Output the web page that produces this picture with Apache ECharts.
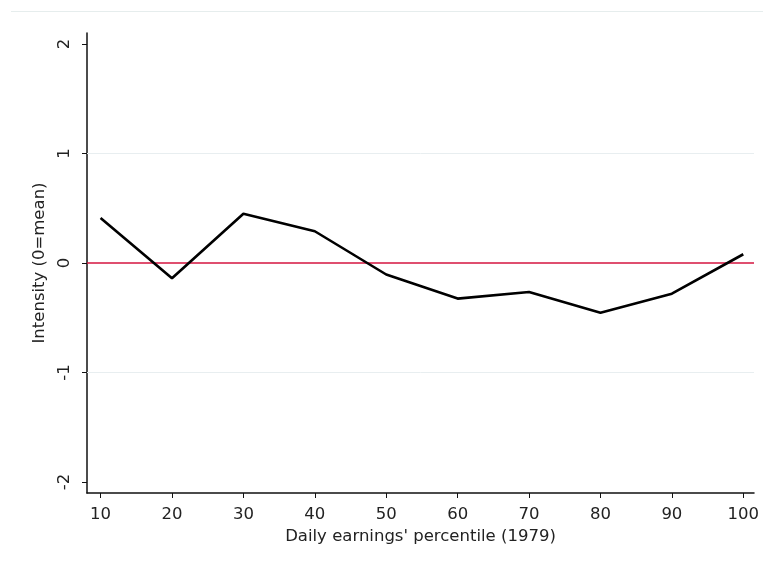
<!DOCTYPE html>
<html>
<head>
<meta charset="utf-8">
<script src="https://cdn.jsdelivr.net/npm/echarts@6/dist/echarts.min.js"></script>
<style>html,body{margin:0;padding:0;background:#fff;}#c{width:763px;height:564px;}</style>
</head>
<body>
<div id="c"></div>
<script>
var percentiles = [10, 20, 30, 40, 50, 60, 70, 80, 90, 100];
var intensity = [0.41, -0.14, 0.45, 0.29, -0.105, -0.325, -0.265, -0.455, -0.28, 0.08];
var xTicks = [10, 20, 30, 40, 50, 60, 70, 80, 90, 100];
var yTicks = [-2, -1, 0, 1, 2];
var gridLevels = [-1, 1];
var refLevel = 0;

var X_MIN = 8.1, X_MAX = 101.5;
var FONT = 'DejaVu Sans';
var FS = 16.5;
var chart = echarts.init(document.getElementById('c'), null, {renderer: 'canvas'});
chart.setOption({
  backgroundColor: '#ffffff',
  animation: false,
  textStyle: {fontFamily: FONT},
  graphic: [{
    type: 'line', silent: true,
    shape: {x1: 11, y1: 11.5, x2: 763, y2: 11.5},
    style: {stroke: '#e6eded', lineWidth: 1}
  }],
  grid: {left: 87, right: 9, top: 33, bottom: 71, containLabel: false},
  xAxis: {
    type: 'value', min: X_MIN, max: X_MAX,
    name: "Daily earnings' percentile (1979)",
    nameLocation: 'middle', nameGap: 30,
    nameTextStyle: {color: '#222', fontSize: FS, fontFamily: FONT},
    axisLine: {show: true, onZero: false, lineStyle: {color: '#111', width: 1.5}},
    axisTick: {show: true, customValues: xTicks, length: 5, lineStyle: {color: '#111', width: 1}},
    axisLabel: {customValues: xTicks, color: '#222', fontSize: FS, margin: 13, fontFamily: FONT},
    splitLine: {show: false}
  },
  yAxis: {
    type: 'value', min: -2.1, max: 2.1,
    name: 'Intensity (0=mean)',
    nameLocation: 'middle', nameGap: 36,
    nameTextStyle: {color: '#222', fontSize: FS, fontFamily: FONT},
    axisLine: {show: true, onZero: false, lineStyle: {color: '#111', width: 1.5}},
    axisTick: {show: true, customValues: yTicks, length: 5, lineStyle: {color: '#111', width: 1}},
    axisLabel: {customValues: yTicks, rotate: 90, color: '#222', fontSize: FS, margin: 14, fontFamily: FONT},
    splitLine: {show: false}
  },
  series: [{
    type: 'line',
    data: [[X_MIN, refLevel], [X_MAX, refLevel]],
    symbol: 'none',
    silent: true,
    lineStyle: {color: '#d4143f', width: 1.6, opacity: 1},
    z: 4
  }, {
    type: 'line',
    data: percentiles.map(function (p, i) { return [p, intensity[i]]; }),
    symbol: 'none',
    lineStyle: {color: '#000', width: 2.6},
    z: 5,
    markLine: {
      silent: true, symbol: 'none', label: {show: false},
      lineStyle: {color: '#e8eef0', width: 1, type: 'solid'},
      data: gridLevels.map(function (v) { return {yAxis: v}; })
    }
  }]
});
</script>
</body>
</html>
